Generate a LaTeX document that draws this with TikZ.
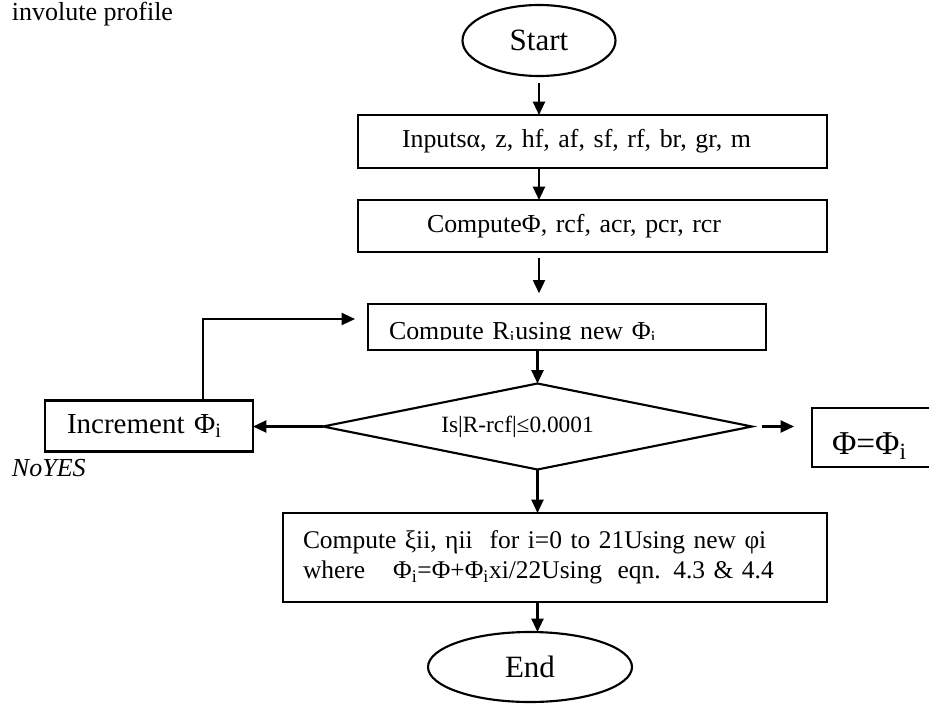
\documentclass[tikz,border=0pt]{standalone}
\usepackage{fontspec}
\setmainfont{Liberation Serif}
\usetikzlibrary{shapes.geometric, arrows.meta}

\begin{document}
\begin{tikzpicture}[
    x=0.75pt, y=-0.75pt,
    line width=1.6pt,
    every node/.style={outer sep=0pt},
    terminal/.style={ellipse, draw, inner sep=0pt,
                     font=\fontsize{23.25}{28}\selectfont},
    procbox/.style={rectangle, draw, align=left,
                    font=\fontsize{19.4}{23}\selectfont},
    decision/.style={diamond, draw, inner sep=0pt, aspect=5,
                     font=\fontsize{17.5}{21}\selectfont},
    note/.style={anchor=base west, inner sep=0pt,
                 font=\fontsize{19.5}{23}\selectfont},
    flow/.style={-{Triangle[length=10pt, width=9pt]}}
]
    \useasboundingbox (0,0) rectangle (929,704);
    \clip (0,0) rectangle (929,704);

    % Caption fragment and branch labels
    \node[note] (caption) at (12,20) {involute profile};
    \node[note, font=\fontsize{19.5}{23}\selectfont\itshape] (branch) at (12,476) {NoYES};

    % Start / End
    \node[terminal, minimum width=114.75pt, minimum height=53.25pt] (start) at (539,40.5) {Start};
    \node[terminal, minimum width=153pt, minimum height=52.5pt] (stop) at (530,667) {End};

    % Process steps
    \node[procbox, minimum height=39.75pt, text width=285.75pt, inner xsep=33pt]
        (inputs) at (592.5,141.5) {Inputsα, z, hf, af, sf, rf, br, gr, m};
    \node[procbox, minimum height=39pt, text width=248.25pt, inner xsep=51.75pt]
        (compute) at (592.5,226) {ComputeΦ, rcf, acr, pcr, rcr};
    \begin{scope}
        \clip (0,0) rectangle (929,339.5);
        \node[procbox, minimum height=34.5pt, text width=267pt, inner xsep=15.75pt,
              text height=18pt, text depth=0pt]
            (update) at (567,327) {Compute R\textsubscript{i}using new Φ\textsubscript{i}};
    \end{scope}
    \draw (update.south west) rectangle (update.north east);

    \node[decision, minimum width=321.75pt, minimum height=64.5pt]
        (check) at (537.5,426.5) {Is|R-rcf|≤0.0001\hspace*{30pt}};
    \node[procbox, font=\fontsize{21.75}{26}\selectfont, minimum height=38.25pt,
          text width=123pt, inner xsep=16.5pt]
        (incr) at (149,426) {Increment Φ\textsubscript{i}};
    \node[procbox, font=\fontsize{25}{30}\selectfont, minimum height=44.25pt,
          text width=66pt, inner xsep=15pt, text height=26pt, text depth=0pt]
        (phibox) at (876,437.5) {Φ=Φ\textsubscript{i}};

    \node[procbox, font=\fontsize{19.1}{22.5}\selectfont, minimum height=66.75pt,
          text width=378pt, inner xsep=15pt]
        (final) at (555,557.5) {Compute ξii, ηii\ \ for i=0 to 21Using new φi\\
        where\hspace{21pt}Φ\textsubscript{i}=Φ+Φ\textsubscript{i}xi/22Using\hspace{0.6em}eqn. 4.3 \& 4.4};

    % Connectors
    \draw[flow, shorten <=5pt] (start) -- (start |- inputs.north);
    \draw[flow] (inputs.south -| start) -- (compute.north -| start);
    \draw[flow, shorten <=4.5pt, shorten >=8pt] (compute.south -| start) -- (update.north -| start);
    \draw[flow] (update.south -| check) -- (check.north);
    \draw[flow] (check.west) -- (check.west -| incr.east);
    \draw[flow] ([xshift=40.5pt]incr.north) |- ([xshift=-9.75pt, yshift=6pt]update.west);
    \draw[flow, shorten <=7.5pt, shorten >=13.5pt] (check.east) -- (check.east -| phibox.west);
    \draw[flow] (check.south) -- (check.south |- final.north);
    \draw[flow] (final.south -| check) -- (stop.north -| check);
\end{tikzpicture}
\end{document}
